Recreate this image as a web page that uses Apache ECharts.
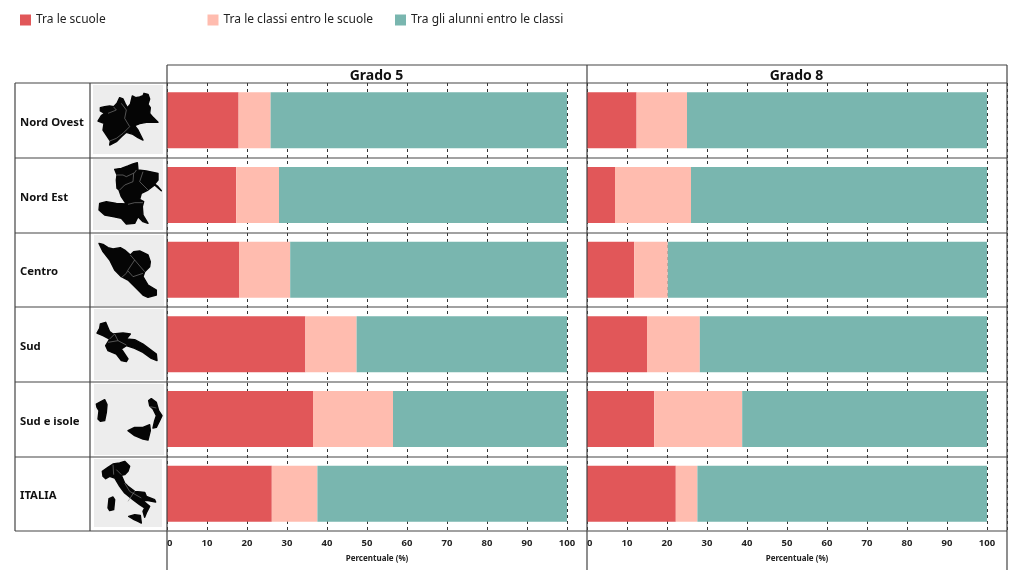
<!DOCTYPE html>
<html><head><meta charset="utf-8">
<style>html,body{margin:0;padding:0;background:#fff}#c{width:1023px;height:575px}</style>
<script src="https://cdn.jsdelivr.net/npm/echarts@6/dist/echarts.min.js"></script>
</head><body><div id="c"></div>
<script>
const regions = ['Nord Ovest','Nord Est','Centro','Sud','Sud e isole','ITALIA'];
const panels = ['Grado 5','Grado 8'];
const seriesNames = ['Tra le scuole','Tra le classi entro le scuole','Tra gli alunni entro le classi'];
const colors = ['#E15759','#FFBCAF','#79B6AF'];
const g5Schools  = [17.9,17.3,18.0,34.6,36.5,26.2];
const g5Classes  = [8.0,10.7,12.8,12.8,20.0,11.4];
const g5Pupils   = [74.1,72.0,69.2,52.6,43.5,62.4];
const g8Schools  = [12.4,7.0,11.8,15.0,16.8,22.2];
const g8Classes  = [12.6,19.0,8.4,13.2,22.0,5.4];
const g8Pupils   = [75.0,74.0,79.8,71.8,61.2,72.4];
const tickMax = 105;

// Decorative silhouettes: [origin y, polygons traced at 3x, inner borders]
const silhouettes = [
 [85,[[[22,68],[35,65],[50,63],[62,65],[72,55],[80,38],[90,42],[96,55],[103,68],[112,58],[118,33],[128,38],[140,36],[150,32],[153,25],[165,28],[170,42],[165,58],[172,68],[170,85],[180,97],[195,112],[178,112],[160,112],[140,116],[125,122],[135,135],[150,165],[135,158],[120,148],[100,142],[85,155],[70,170],[50,180],[52,168],[40,150],[30,135],[33,115],[15,108],[25,92],[35,85],[22,78]]],
   [[[62,66],[70,75],[45,85]],[[85,55],[100,75],[95,100],[110,125]],[[110,125],[90,145],[70,160],[50,168]]]],
 [160,[[[65,28],[85,25],[105,18],[120,12],[133,8],[135,30],[160,33],[195,40],[195,60],[185,72],[195,80],[205,92],[185,75],[165,90],[145,100],[140,118],[152,125],[148,140],[150,165],[165,190],[150,185],[135,170],[125,190],[100,192],[85,175],[60,170],[35,165],[18,150],[20,130],[40,125],[70,130],[100,132],[85,110],[78,90],[72,85],[70,60],[72,45]]],
   [[[70,45],[90,45],[100,50],[125,38],[130,30]],[[122,40],[120,65],[95,75],[80,90]],[[150,35],[140,65],[165,90]],[[105,133],[125,128],[150,128]]]],
 [235,[[[18,25],[30,28],[45,38],[60,42],[82,38],[95,45],[112,60],[122,50],[140,48],[165,60],[172,80],[170,95],[155,110],[150,125],[165,150],[190,165],[190,180],[165,187],[150,180],[130,160],[105,135],[85,125],[65,105],[50,75],[30,50]]],
   [[[112,60],[125,75],[105,105],[100,115],[85,128]],[[125,75],[155,110]],[[105,108],[120,125],[150,115]]]],
 [309,[[[22,45],[38,40],[50,68],[60,75],[90,72],[112,75],[100,90],[125,92],[150,105],[190,135],[192,155],[175,148],[150,130],[125,118],[100,110],[85,120],[105,150],[100,158],[85,155],[70,135],[45,125],[38,110],[50,90],[30,80],[12,72],[20,58]]],
   [[[50,90],[65,75],[75,95],[45,100]],[[75,95],[100,108]]]],
 [384,[[[10,60],[25,52],[35,47],[42,62],[40,85],[35,110],[22,112],[15,105],[18,80],[12,70]],[[167,50],[175,44],[190,55],[197,80],[207,95],[200,110],[190,130],[180,132],[185,110],[190,95],[180,75],[170,65]],[[105,140],[125,130],[150,130],[170,122],[172,140],[165,168],[150,165],[125,155]]],
   [[[172,68],[190,72]]]],
 [458,[[[28,40],[45,28],[60,18],[80,15],[95,10],[110,25],[105,40],[95,50],[85,52],[95,75],[105,85],[125,100],[155,103],[160,115],[185,125],[188,132],[165,128],[150,128],[170,145],[160,165],[155,178],[150,160],[155,150],[140,140],[120,125],[95,105],[80,85],[65,60],[50,55],[38,62],[30,55]],[[48,122],[60,117],[65,125],[62,155],[50,158],[45,150]],[[107,175],[125,170],[142,172],[145,195],[135,190],[120,183]]],
   [[[60,20],[62,50]],[[85,50],[70,35]],[[95,75],[110,100],[145,120]],[[125,100],[105,130]]]]
];
const panelBoxes = [[93,85,70,69],[93,159,70,71],[94,235,70,71],[94,309,70,71],[94,384,70,71],[94,459,68,68]];
const rowLines = [83,158,233,307,382,457,531];

const lineStyle = {stroke:'#444',lineWidth:1.2};
const graphic = [];
const hline = (x1,x2,y)=>graphic.push({type:'line',silent:true,z:20,shape:{x1,y1:y,x2,y2:y},style:lineStyle});
const vline = (x,y1,y2)=>graphic.push({type:'line',silent:true,z:20,shape:{x1:x,y1,x2:x,y2},style:lineStyle});
rowLines.forEach(y=>hline(15,1007,y));
hline(167,1007,65);
vline(15,83,531);vline(90,83,531);
vline(167,65,570);vline(587,65,570);vline(1007,65,570);
panelBoxes.forEach((b,i)=>{
  graphic.push({type:'rect',silent:true,z:1,shape:{x:b[0],y:b[1],width:b[2],height:b[3]},style:{fill:'#EDEDED'}});
  const [oy,polys,borders]=silhouettes[i];
  const map=p=>p.map(q=>[93+q[0]/3,oy+q[1]/3]);
  polys.forEach(p=>graphic.push({type:'polygon',silent:true,z:2,shape:{points:map(p)},style:{fill:'#050505',stroke:'#050505',lineWidth:1.4,lineJoin:'round'}}));
  borders.forEach(p=>graphic.push({type:'polyline',silent:true,z:3,shape:{points:map(p)},style:{stroke:'#888',lineWidth:0.6,fill:null}}));
});

const font='"Noto Sans"';
const grids=[{left:167,top:83,width:420,height:448},{left:587,top:83,width:420,height:448}];
const xAxes=grids.map((g,i)=>({type:'value',gridIndex:i,min:0,max:tickMax,interval:10,
  name:'Percentuale (%)',nameLocation:'middle',nameGap:24,
  nameTextStyle:{fontFamily:font,fontSize:8,fontWeight:'bold',color:'#222'},
  axisLine:{show:false},axisTick:{show:false},
  axisLabel:{margin:7,fontFamily:font,fontSize:9.5,fontWeight:'bold',color:'#222',showMaxLabel:false,alignMinLabel:'left',
    formatter:v=>v>100?'':String(v)},
  splitLine:{show:true,lineStyle:{color:'#333',type:[3,3],width:1}}}));
const yAxes=grids.map((g,i)=>({type:'category',gridIndex:i,inverse:true,data:regions,
  axisLine:{show:false},axisTick:{show:false},splitLine:{show:false},
  axisLabel:i===0?{show:true,align:'left',margin:147,formatter:v=>'{a|'+v+'}',
    rich:{a:{fontFamily:font,fontSize:11.3,fontWeight:'bold',color:'#111',height:12,lineHeight:17,verticalAlign:'bottom'}}}:{show:false}}));
const rows=[[g5Schools,g5Classes,g5Pupils],[g8Schools,g8Classes,g8Pupils]];
const series=[];
rows.forEach((r,i)=>r.forEach((d,j)=>series.push({name:seriesNames[j],type:'bar',stack:'p'+i,xAxisIndex:i,yAxisIndex:i,
  barWidth:56,data:d,itemStyle:{color:colors[j]},silent:true,z:5})));
const legendLefts=[20,207.5,395];
const chart=echarts.init(document.getElementById('c'),null,{renderer:'canvas'});
chart.setOption({animation:false,backgroundColor:'#fff',
  title:panels.map((t,i)=>({text:t,left:i?791.5:371.5,top:62,textAlign:'center',
    textStyle:{fontFamily:font,fontSize:14,fontWeight:'bold',color:'#111',lineHeight:18}})),
  legend:seriesNames.map((n,i)=>({data:[n],left:legendLefts[i],top:14,itemWidth:11,itemHeight:11,itemGap:2,icon:'rect',padding:0,
    selectedMode:false,textStyle:{fontFamily:font,fontSize:12,color:'#222'}})),
  grid:grids,xAxis:xAxes,yAxis:yAxes,series,graphic});
</script></body></html>
